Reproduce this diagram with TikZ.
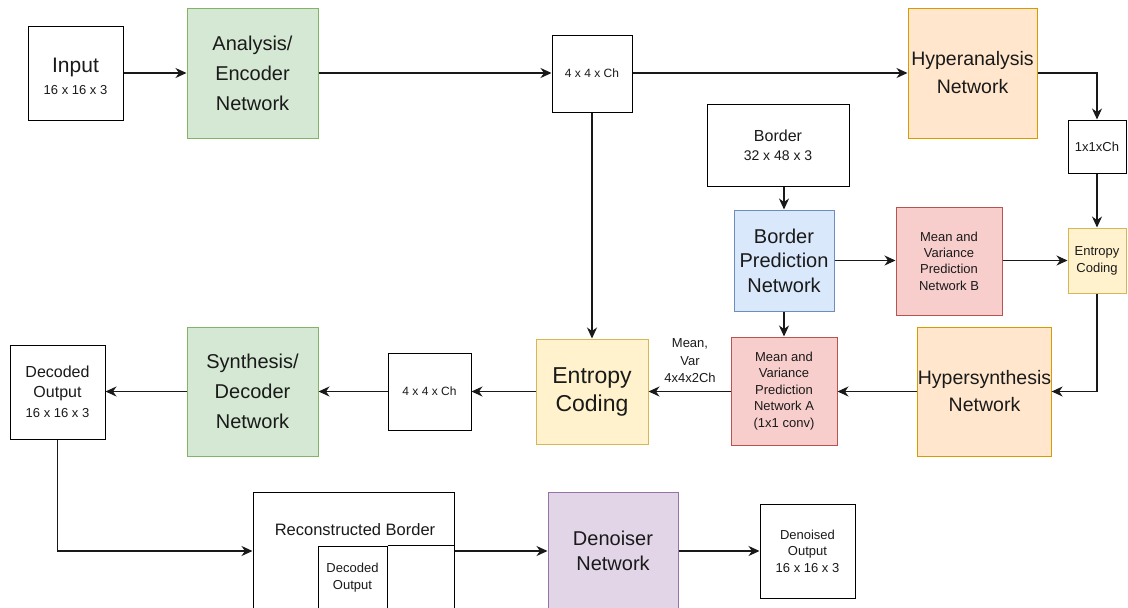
\documentclass[tikz,border=0pt]{standalone}
\usepackage{fontspec}
\setmainfont{Liberation Sans}
\usetikzlibrary{arrows.meta}
\definecolor{gfill}{HTML}{D5E8D4}\definecolor{gline}{HTML}{82B366}
\definecolor{ofill}{HTML}{FFE6CC}\definecolor{oline}{HTML}{D79B00}
\definecolor{yfill}{HTML}{FFF2CC}\definecolor{yline}{HTML}{D6B656}
\definecolor{bfill}{HTML}{DAE8FC}\definecolor{bline}{HTML}{6C8EBF}
\definecolor{rfill}{HTML}{F8CECC}\definecolor{rline}{HTML}{B85450}
\definecolor{pfill}{HTML}{E1D5E7}\definecolor{pline}{HTML}{9673A6}
\definecolor{txt}{HTML}{1A1A1A}
\newcommand{\fs}[2]{\fontsize{#1}{#2}\selectfont}
\begin{document}
\begin{tikzpicture}[x=1pt,y=-1pt,
  box/.style={draw=black, line width=1pt, align=center, inner sep=0pt, text=txt, fill=white},
  gbox/.style={box, draw=gline, fill=gfill},
  obox/.style={box, draw=oline, fill=ofill},
  ybox/.style={box, draw=yline, fill=yfill},
  bbox/.style={box, draw=bline, fill=bfill},
  rbox/.style={box, draw=rline, fill=rfill},
  pbox/.style={box, draw=pline, fill=pfill},
  plain/.style={align=center, inner sep=0pt, text=txt},
  arr/.style={-{Stealth[length=11pt,width=10pt,inset=3.5pt]}, line width=1.2pt, draw=black!90},
  ln/.style={line width=1pt, draw=black}]
\useasboundingbox (0,0) rectangle (1128,608);
\clip (0,0) rectangle (1128,608);
\fill[white] (0,0) rectangle (1128,608);

% top row
\node[box, minimum width=95, minimum height=94] (inp) at (75.5,73) {};
\node[plain, font=\fs{21}{22}] (inptext) at (75.5,76.5)
  {Input\\{\fs{13}{15}16 x 16 x 3}};
\node[gbox, minimum width=131, minimum height=130, font=\fs{20}{30}] (ana) at (252.5,73)
  {Analysis/\\Encoder\\Network};
\node[box, minimum width=80, minimum height=77, font=\fs{12}{14}] (lat1) at (592,73.5)
  {4 x 4 x Ch};
\node[obox, minimum width=129, minimum height=130, font=\fs{19.5}{28}] (hya) at (972.5,73)
  {Hyperanalysis\\Network};
\node[box, minimum width=58, minimum height=53, font=\fs{13}{15}] (z) at (1097,146.5)
  {1x1xCh};
\node[ybox, minimum width=58, minimum height=65, font=\fs{13}{17}] (ecs) at (1097,260.5)
  {Entropy\\Coding};

% border branch
\node[box, minimum width=142, minimum height=82, font=\fs{16}{19}] (bord) at (778,145)
  {Border\\{\fs{14}{16}32 x 48 x 3}};
\node[bbox, minimum width=100, minimum height=101, font=\fs{20}{24.5}] (bpn) at (784,260.5)
  {Border\\Prediction\\Network};
\node[rbox, minimum width=106, minimum height=108, font=\fs{13}{16.3}] (mvb) at (949,261)
  {Mean and\\Variance\\Prediction\\Network B};

% middle row
\node[obox, minimum width=131, minimum height=129, font=\fs{19.5}{27}] (hys) at (984.5,391.5)
  {Hypersynthesis\\Network};
\node[rbox, minimum width=106, minimum height=108, font=\fs{13}{16.5}] (mva) at (784,391)
  {Mean and\\Variance\\Prediction\\Network A\\(1x1 conv)};
\node[ybox, minimum width=112, minimum height=105, font=\fs{23}{28}] (ecb) at (592,391.5)
  {Entropy\\Coding};
\node[box, minimum width=83, minimum height=77, font=\fs{12}{14}] (lat2) at (429.5,391.5)
  {4 x 4 x Ch};
\node[gbox, minimum width=131, minimum height=129, font=\fs{20}{30}] (syn) at (252.5,391.5)
  {Synthesis/\\Decoder\\Network};
\node[box, minimum width=95, minimum height=94, font=\fs{16}{20}] (dec) at (57.5,392)
  {Decoded\\Output\\{\fs{13}{15}16 x 16 x 3}};
\node[plain, font=\fs{13}{17.5}] (mvlab) at (690,361) {Mean,\\Var\\4x4x2Ch};

% bottom row
\coordinate (r) at (0,551);
\node[box, minimum width=201, minimum height=160] (rec) at (353.5,572) {};
\node[plain, font=\fs{16.5}{18}] (rectext) at (355,530) {Reconstructed Border};
\node[box, minimum width=69, minimum height=110] (inner) at (352.5,601) {};
\node[plain, font=\fs{13}{17}] (innertext) at (352.5,578) {Decoded\\Output};
\draw[ln] (inner.north east) -- (rec.east |- inner.north);
\node[pbox, minimum width=130, minimum height=140] (den) at (613,562) {};
\node[plain, font=\fs{20}{25}] (dentext) at (613,550.5) {Denoiser\\Network};
\node[box, minimum width=95, minimum height=94, font=\fs{13}{16.5}] (dno) at (807.5,551)
  {Denoised\\Output\\16 x 16 x 3};

% connectors
\draw[arr] (inp.east) -- (ana.west |- inp.east);
\draw[arr] (ana.east) -- (lat1.west |- ana.east);
\draw[arr] (lat1.east |- hya.west) -- (hya.west);
\draw[arr] (hya.east) -| (z.north);
\draw[arr] (z.south) -- (ecs.north);
\draw[arr] (bpn.north |- bord.south) -- (bpn.north);
\draw[arr] (bpn.east) -- (mvb.west |- bpn.east);
\draw[arr] (mvb.east |- ecs.west) -- (ecs.west);
\draw[arr] (ecs.south) |- (hys.east);
\draw[arr] (bpn.south) -- (mva.north);
\draw[arr] (hys.west) -- (mva.east |- hys.west);
\draw[arr] (mva.west |- ecb.east) -- (ecb.east);
\draw[arr] (lat1.south) -- (ecb.north);
\draw[arr] (ecb.west) -- (lat2.east);
\draw[arr] (lat2.west) -- (syn.east);
\draw[arr] (syn.west) -- (dec.east |- syn.west);
\draw[arr] (dec.south) |- (rec.west |- r);
\draw[arr] (rec.east |- r) -- (den.west |- r);
\draw[arr] (den.east |- r) -- (dno.west |- r);
\end{tikzpicture}
\end{document}
